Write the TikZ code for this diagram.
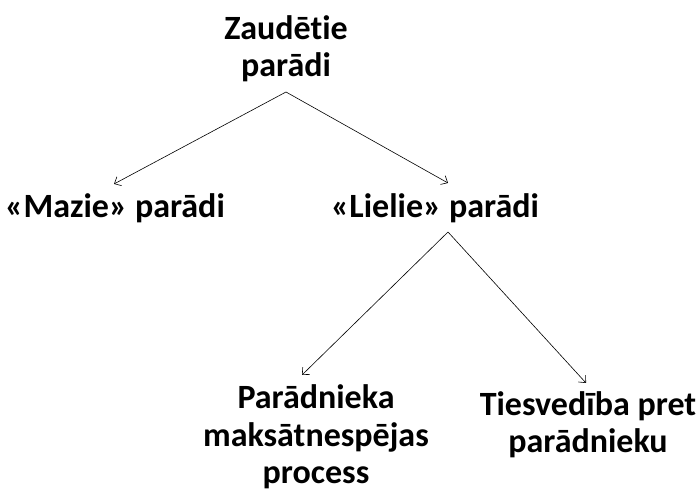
\documentclass[tikz,border=0pt]{standalone}
\usepackage{fontspec}
\setmainfont{Carlito}[Ligatures={NoCommon}]
\usetikzlibrary{arrows.meta}
\begin{document}
\begin{tikzpicture}[x=1pt,y=1pt,
  lbl/.style={font=\fontsize{34}{37.5}\selectfont\bfseries, align=center, inner sep=0pt, anchor=base},
  conn/.style={draw, line width=0.6pt, -{Straight Barb[length=5.5pt,width=10pt]}}]
\useasboundingbox (0,0) rectangle (696,494);
\node[lbl] (root) at (286,417) {Zaudētie\\parādi};
\node[lbl] (mazie) at (115,276) {«Mazie» parādi};
\node[lbl] (lielie) at (435,276) {«Lielie» parādi};
\node[lbl] (proc) at (316,10) {Parādnieka\\maksātnespējas\\process};
\node[lbl] (ties) at (588,41) {Tiesvedība pret\\parādnieku};
\draw[conn] ([yshift=-15pt]root.base) -- ([shift={(-1pt,34pt)}]mazie.base);
\draw[conn] ([yshift=-15pt]root.base) -- ([shift={(13pt,35pt)}]lielie.base);
\draw[conn] ([shift={(13pt,-14pt)}]lielie.base) -- ([shift={(-14pt,109pt)}]proc.base);
\draw[conn] ([shift={(13pt,-14pt)}]lielie.base) -- ([shift={(-2pt,70pt)}]ties.base);
\end{tikzpicture}
\end{document}
